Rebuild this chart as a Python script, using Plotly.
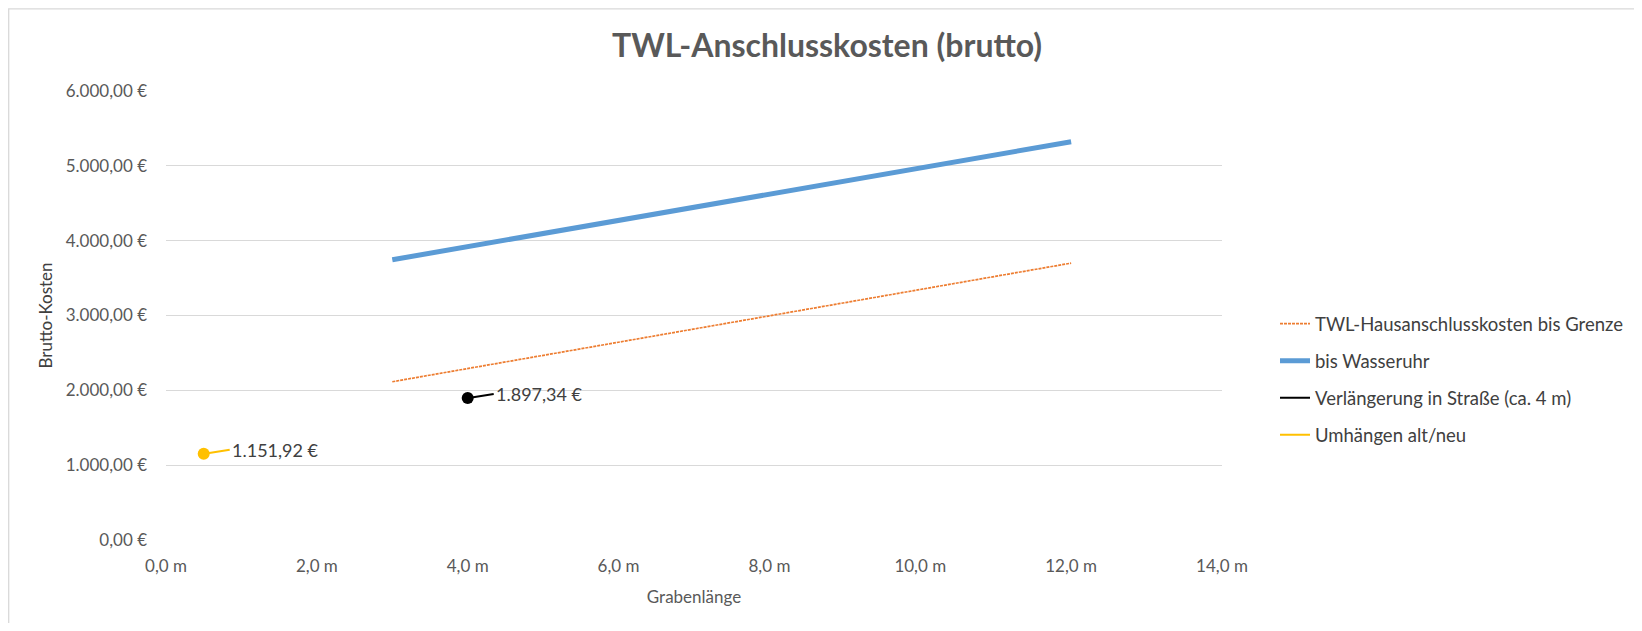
import plotly.graph_objects as go

# ---- data ----
x_len = [3, 12]
grenze = [2115, 3700]
wasseruhr = [3745, 5322]
strasse_x = [4]
strasse_y = [1897.34]
umhaengen_x = [0.5]
umhaengen_y = [1151.92]

y_ticks = [0, 1000, 2000, 3000, 4000, 5000, 6000]
x_ticks = [0, 2, 4, 6, 8, 10, 12, 14]

def eur(v):
    s = f"{v:,.2f}".replace(",", "X").replace(".", ",").replace("X", ".")
    return s + " €"

def meter(v):
    return f"{v:.1f}".replace(".", ",") + " m"

FONT = "Lato"
GRAY = "#595959"
TXT = "#404040"

W, H = 1634, 615
L, T = 158, 83
PW, PH = 1056, 449.5

fig = go.Figure()
fig.add_trace(go.Scatter(x=x_len, y=grenze, mode="lines", name="TWL-Hausanschlusskosten bis Grenze",
                         line=dict(color="#ED7D31", width=1.7, dash="3px,1px"), legendgroup="a"))
fig.add_trace(go.Scatter(x=x_len, y=wasseruhr, mode="lines", name="bis Wasseruhr",
                         line=dict(color="#5B9BD5", width=5), legendgroup="b"))
fig.add_trace(go.Scatter(x=strasse_x, y=strasse_y, mode="markers", name="Verlängerung in Straße (ca. 4 m)",
                         marker=dict(color="#000000", size=12), showlegend=False))
fig.add_trace(go.Scatter(x=[None], y=[None], mode="lines", name="Verlängerung in Straße (ca. 4 m)",
                         line=dict(color="#000000", width=2), legendgroup="c"))
fig.add_trace(go.Scatter(x=umhaengen_x, y=umhaengen_y, mode="markers", name="Umhängen alt/neu",
                         marker=dict(color="#FFC000", size=12), showlegend=False))
fig.add_trace(go.Scatter(x=[None], y=[None], mode="lines", name="Umhängen alt/neu",
                         line=dict(color="#FFC000", width=2), legendgroup="d"))

for xs, ys, col in [(strasse_x, strasse_y, "#000000"), (umhaengen_x, umhaengen_y, "#FFC000")]:
    for xv, yv in zip(xs, ys):
        fig.add_annotation(x=xv, y=yv, text=eur(yv), showarrow=True, arrowhead=0, arrowwidth=2,
                           arrowcolor=col, ax=26, ay=-4, xanchor="left", standoff=4,
                           font=dict(family=FONT, size=18, color=TXT))

fig.update_layout(
    width=W, height=H,
    margin=dict(l=L, r=W - L - PW, t=T, b=H - T - PH, autoexpand=False),
    paper_bgcolor="white", plot_bgcolor="white",
    font=dict(family=FONT, color=GRAY),
    title=dict(text="<b>TWL-Anschlusskosten (brutto)</b>", x=819 / W, xanchor="center",
               y=1 - 38 / H, yanchor="middle",
               font=dict(family=FONT, size=32, color=GRAY)),
    legend=dict(xref="container", x=1267 / W, xanchor="left", y=0.523, yanchor="top",
                traceorder="grouped", tracegroupgap=10,
                font=dict(family=FONT, size=18.5, color=TXT), bgcolor="rgba(0,0,0,0)"),
    showlegend=True,
)
fig.update_xaxes(range=[0, 14], tickvals=x_ticks, ticktext=[meter(v) for v in x_ticks],
                 showgrid=False, zeroline=False, showline=False, ticks="",
                 ticklabelstandoff=14,
                 tickfont=dict(family=FONT, size=17, color=GRAY),
                 title=dict(text="Grabenlänge", font=dict(family=FONT, size=17, color=GRAY), standoff=16))
fig.update_yaxes(range=[0, 6000], tickvals=y_ticks, ticktext=[eur(v) for v in y_ticks],
                 showgrid=True, gridcolor="#D9D9D9", gridwidth=1.3, zeroline=False, showline=False, ticks="",
                 ticklabelstandoff=18,
                 tickfont=dict(family=FONT, size=17, color=GRAY),
                 title=dict(text="Brutto-Kosten", font=dict(family=FONT, size=17, color=TXT), standoff=8))

fig.add_shape(type="rect", xref="paper", yref="paper",
              x0=(0.7 - L) / PW, x1=(W + 30 - L) / PW,
              y0=(T + PH - (H + 30)) / PH, y1=(T + PH - 0.7) / PH,
              line=dict(color="#D9D9D9", width=1.3), fillcolor="rgba(0,0,0,0)", layer="below")

fig.write_html("out.html")
